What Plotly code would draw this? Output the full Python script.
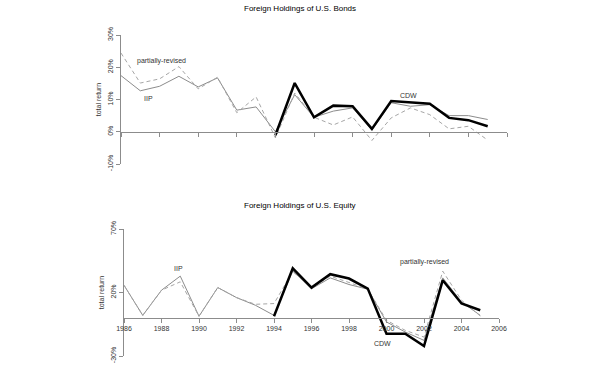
import plotly.graph_objects as go

years = list(range(1986, 2006))

# Bonds (percent)
bond_iip = [17.4, 12.7, 14.1, 17.2, 13.9, 16.7, 6.7, 7.7, 0.0, 11.5,
            4.5, 6.4, 7.4, 0.5, 9.0, 7.9, 8.4, 5.0, 5.0, 3.8]
bond_rev = [24.4, 15.1, 16.4, 20.2, 13.3, 16.9, 5.9, 10.8, -1.9, 12.0,
            4.5, 2.1, 4.6, -2.7, 4.3, 7.4, 5.3, 0.9, 1.7, -2.6]
bond_cdw = [None] * 8 + [-1.1, 15.1, 4.5, 8.1, 7.9, 0.9, 9.5, 9.2, 8.7, 4.3, 3.6, 1.7]

# Equity (percent)
eq_iip = [25.7, 2.0, 21.8, 32.9, 1.3, 23.9, 16.0, 10.0, 2.0, 37.0,
          22.9, 31.5, 26.3, 22.6, -3.2, -11.1, -17.7, 31.5, 12.6, 2.0]
eq_rev = [25.7, 2.0, 21.8, 28.4, 1.3, 23.9, 16.0, 10.7, 11.3, 36.5,
          23.5, 32.9, 27.9, 22.6, -1.9, -9.8, -15.1, 36.8, 13.9, 1.5]
eq_cdw = [None] * 8 + [1.3, 39.0, 23.9, 34.4, 31.0, 23.1, -12.4, -12.4, -22.2, 29.7, 11.3, 6.0]

bond_yticks = [-10, 0, 10, 20, 30]
eq_yticks = [-30, 20, 70]
xticks = list(range(1986, 2007, 2))

FONT = "Liberation Sans, Arial, sans-serif"
W, H = 600, 371

def px(v):
    return v / W

def py(v):
    return (H - v) / H

fig = go.Figure()

def add_series(xa, ya, iip, rev, cdw):
    fig.add_trace(go.Scatter(x=years, y=iip, mode="lines", xaxis=xa, yaxis=ya,
                             line=dict(color="#8c8c8c", width=1), showlegend=False))
    fig.add_trace(go.Scatter(x=years, y=rev, mode="lines", xaxis=xa, yaxis=ya,
                             line=dict(color="#a6a6a6", width=1, dash="4px,3px"), showlegend=False))
    fig.add_trace(go.Scatter(x=years, y=cdw, mode="lines", xaxis=xa, yaxis=ya,
                             line=dict(color="black", width=2.5), showlegend=False,
                             connectgaps=False))

add_series("x", "y", bond_iip, bond_rev, bond_cdw)
add_series("x2", "y2", eq_iip, eq_rev, eq_cdw)

# domains in paper coordinates
top_x = [px(121), px(507)]
top_y = [py(164), py(35)]
bot_x = [px(124), px(499)]
bot_y = [py(356), py(229)]

def zero_pos(dom, lo, hi):
    return dom[0] + (0 - lo) / (hi - lo) * (dom[1] - dom[0])

axis_common = dict(showgrid=False, zeroline=False, showline=True, linecolor="#8c8c8c",
                   linewidth=1, ticks="outside", ticklen=4, tickcolor="#8c8c8c",
                   automargin=False,
                   tickfont=dict(family=FONT, size=7, color="#333333"))

fig.update_layout(
    width=W, height=H, margin=dict(l=0, r=0, t=0, b=0, autoexpand=False),
    paper_bgcolor="white", plot_bgcolor="rgba(0,0,0,0)",
    font=dict(family=FONT, size=7, color="#333333"),
    xaxis=dict(domain=top_x, range=[1986, 2006], anchor="free",
               position=zero_pos(top_y, -10, 30), tickvals=xticks,
               showticklabels=False, **axis_common),
    yaxis=dict(domain=top_y, range=[-10, 30], anchor="x", tickvals=bond_yticks,
               ticktext=[f"{v}%" for v in bond_yticks], tickangle=-90,
               title=dict(text="total return", font=dict(family=FONT, size=7, color="#333333"),
                          standoff=4),
               **axis_common),
    xaxis2=dict(domain=bot_x, range=[1986, 2006], anchor="free",
                position=zero_pos(bot_y, -30, 70), tickvals=xticks,
                ticktext=[str(v) for v in xticks], **axis_common),
    yaxis2=dict(domain=bot_y, range=[-30, 70], anchor="x2", tickvals=eq_yticks,
                ticktext=[f"{v}%" for v in eq_yticks], tickangle=-90,
                title=dict(text="total return", font=dict(family=FONT, size=7, color="#333333"),
                           standoff=4),
                **axis_common),
)

ann_font = dict(family=FONT, size=7, color="#333333")
annotations = [
    dict(text="Foreign Holdings of U.S. Bonds", x=px(300), y=py(9), xref="paper", yref="paper",
         yanchor="middle", showarrow=False, font=dict(family=FONT, size=8, color="black")),
    dict(text="Foreign Holdings of U.S. Equity", x=px(300), y=py(205), xref="paper", yref="paper",
         yanchor="middle", showarrow=False, font=dict(family=FONT, size=8, color="black")),
    dict(text="partially-revised", x=1988.1, y=22.0, xref="x", yref="y", showarrow=False, font=ann_font),
    dict(text="IIP", x=1987.4, y=10.3, xref="x", yref="y", showarrow=False, font=ann_font),
    dict(text="CDW", x=2000.9, y=11.2, xref="x", yref="y", showarrow=False, font=ann_font),
    dict(text="IIP", x=1988.9, y=39.2, xref="x2", yref="y2", showarrow=False, font=ann_font),
    dict(text="partially-revised", x=2002.0, y=44.2, xref="x2", yref="y2", showarrow=False, font=ann_font),
    dict(text="CDW", x=1999.8, y=-19.8, xref="x2", yref="y2", showarrow=False, font=ann_font),
]
fig.update_layout(annotations=annotations)

fig.write_html("out.html", config={"displayModeBar": False},
               post_script="document.body.style.margin='0';document.body.style.overflow='hidden';")
